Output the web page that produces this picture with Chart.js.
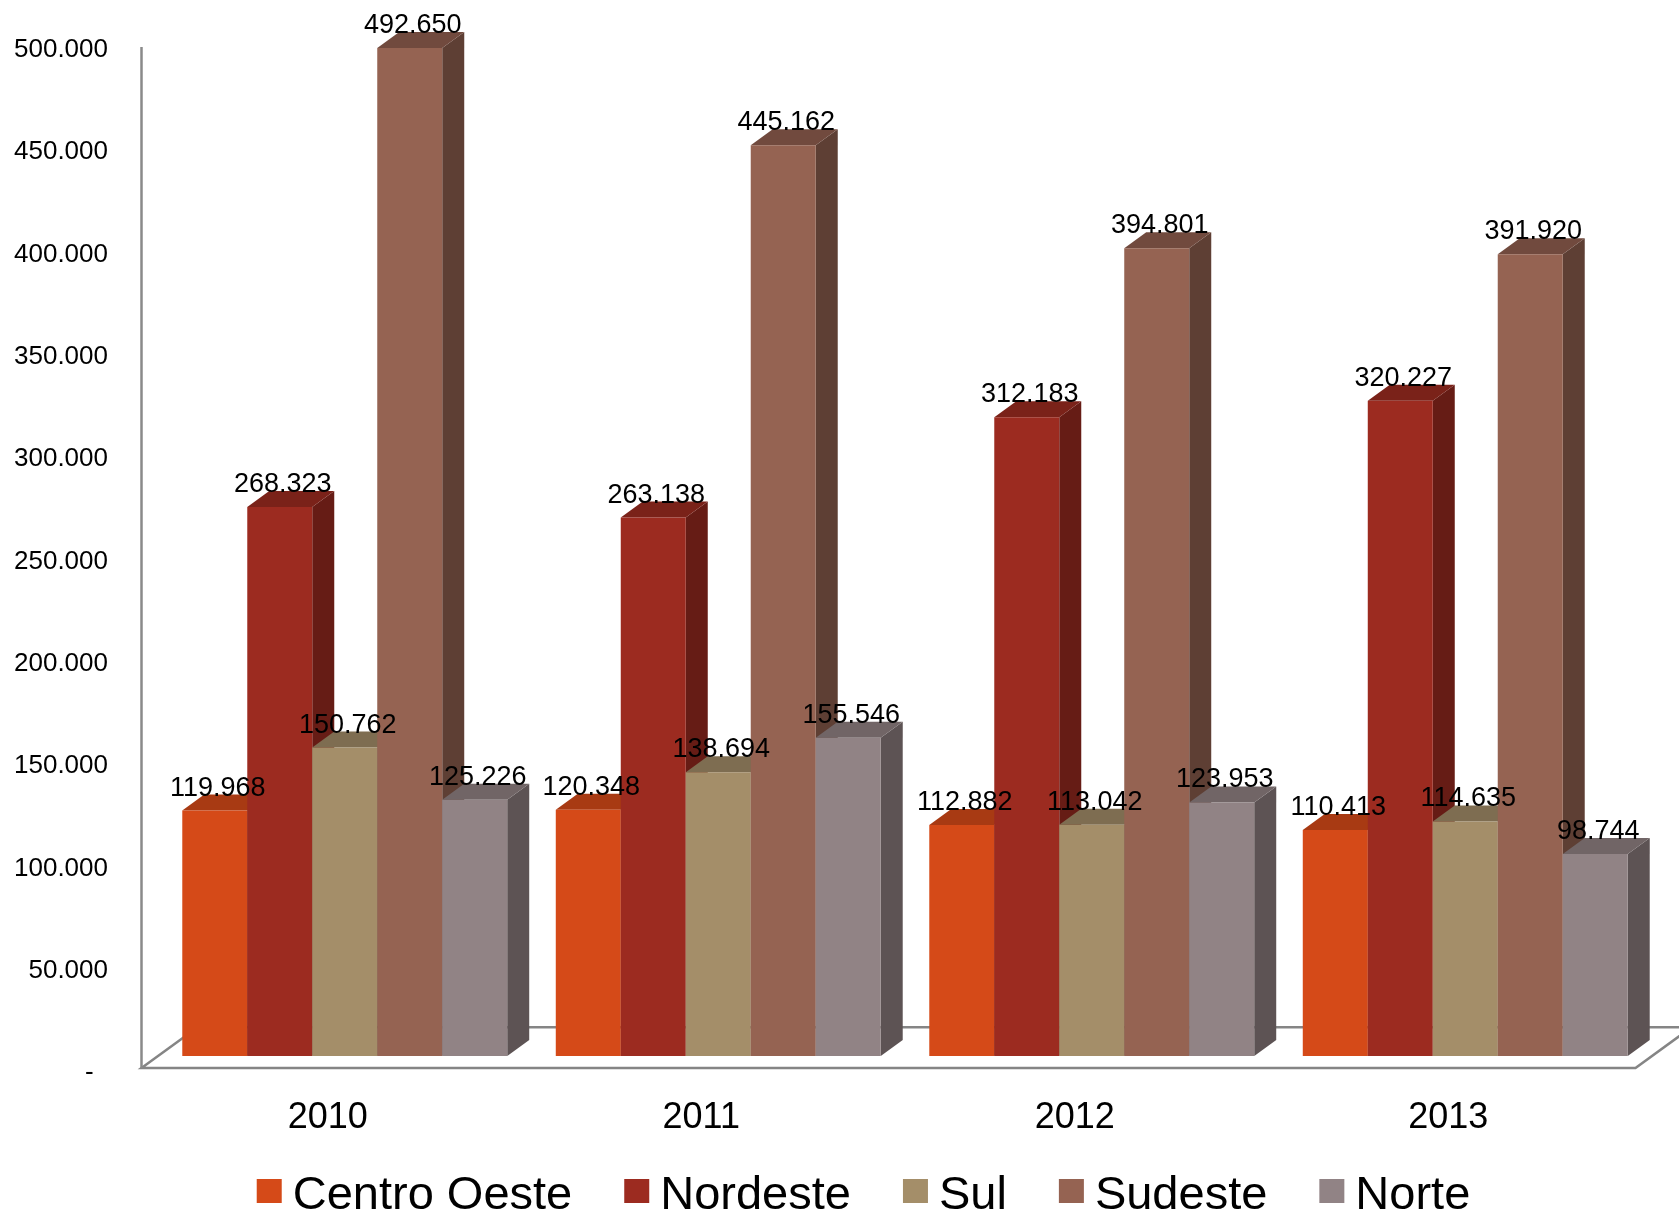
<!DOCTYPE html>
<html>
<head>
<meta charset="utf-8">
<title>Regiões 2010–2013</title>
<script src="https://cdn.jsdelivr.net/npm/chart.js@4/dist/chart.umd.min.js"></script>
<style>
  html, body { margin: 0; padding: 0; background: #ffffff; }
  #wrap { width: 1679px; height: 1217px; }
</style>
</head>
<body>
<div id="wrap"><canvas id="chart" width="1679" height="1217"></canvas></div>
<script>
// Years on the category axis
const categories = ['2010', '2011', '2012', '2013'];

// Values per region
const centroOeste = [119968, 120348, 112882, 110413];
const nordeste    = [268323, 263138, 312183, 320227];
const sul         = [150762, 138694, 113042, 114635];
const sudeste     = [492650, 445162, 394801, 391920];
const norte       = [125226, 155546, 123953, 98744];

const seriesNames = ['Centro Oeste', 'Nordeste', 'Sul', 'Sudeste', 'Norte'];
const seriesValues = [centroOeste, nordeste, sul, sudeste, norte];

// Value axis labels, bottom to top (zero shown as an accounting dash)
const yTickLabels = ['-  ', '50.000', '100.000', '150.000', '200.000', '250.000',
                     '300.000', '350.000', '400.000', '450.000', '500.000'];

// Face colours: front, top, side
const frontColors = ['#D54A18', '#9C2B20', '#A48E69', '#956352', '#918385'];
const topColors   = ['#A83A13', '#7A2219', '#7E6D51', '#714A3E', '#716566'];
const sideColors  = ['#8A300F', '#661C15', '#6B5D46', '#5E3F34', '#5D5354'];

const FONT = '"Liberation Sans", Arial, Helvetica, sans-serif';
Chart.defaults.font.family = FONT;
Chart.defaults.color = '#000000';

// oblique depth of each bar
const DX = 22, DY = 16;

function fmt(v) {
  return String(v).replace(/\B(?=(\d{3})+(?!\d))/g, '.');
}

function poly(ctx, pts, color) {
  ctx.beginPath();
  ctx.moveTo(pts[0][0], pts[0][1]);
  for (let k = 1; k < pts.length; k++) ctx.lineTo(pts[k][0], pts[k][1]);
  ctx.closePath();
  ctx.fillStyle = color;
  ctx.fill();
}

// floor and value-axis edge, drawn under the bars
const floorPlugin = {
  id: 'floor3d',
  beforeDatasetsDraw(chart) {
    const { ctx, chartArea: a } = chart;
    const fx = -0.75 * DX, fy = 0.75 * DY;     // front edge offset
    const bx = 1.8 * DX,   by = -1.8 * DY;     // back edge offset
    const fl = [a.left + fx, a.bottom + fy];
    const fr = [a.right + fx, a.bottom + fy];
    const bl = [a.left + bx, a.bottom + by];
    const br = [a.right + bx, a.bottom + by];
    ctx.save();
    ctx.strokeStyle = '#858585';
    ctx.lineWidth = 2.5;
    ctx.beginPath();
    ctx.moveTo(fl[0], fl[1]); ctx.lineTo(fr[0], fr[1]);
    ctx.lineTo(br[0], br[1]); ctx.lineTo(bl[0], bl[1]);
    ctx.closePath();
    ctx.stroke();
    ctx.strokeStyle = '#8a8a8a';
    ctx.beginPath();
    ctx.moveTo(fl[0], a.top + 14);
    ctx.lineTo(fl[0], fl[1]);
    ctx.stroke();
    ctx.restore();
  }
};

// bars drawn category by category, left to right, with top and side faces
const barsPlugin = {
  id: 'bars3d',
  beforeDatasetDraw() { return false; },
  afterDatasetsDraw(chart) {
    const ctx = chart.ctx;
    const nSets = chart.data.datasets.length;
    const nCats = chart.data.labels.length;
    ctx.save();
    for (let j = 0; j < nCats; j++) {
      for (let i = 0; i < nSets; i++) {
        const bar = chart.getDatasetMeta(i).data[j];
        const { x, y, base, width } = bar.getProps(['x', 'y', 'base', 'width'], true);
        const l = x - width / 2, r = x + width / 2;
        poly(ctx, [[r, y], [r + DX, y - DY], [r + DX, base - DY], [r, base]], sideColors[i]);
        poly(ctx, [[l, y], [r, y], [r + DX, y - DY], [l + DX, y - DY]], topColors[i]);
        bar.draw(ctx);
      }
    }
    // value labels above each bar
    ctx.fillStyle = '#000000';
    ctx.font = '27px ' + FONT;
    ctx.textAlign = 'center';
    ctx.textBaseline = 'alphabetic';
    for (let i = 0; i < nSets; i++) {
      const meta = chart.getDatasetMeta(i);
      meta.data.forEach((bar, j) => {
        const { x, y } = bar.getProps(['x', 'y'], true);
        ctx.fillText(fmt(chart.data.datasets[i].data[j]), x + 3, y - DY + 1);
      });
    }
    ctx.restore();
  }
};

// legend row under the year labels
const legendPlugin = {
  id: 'legendRow',
  afterDraw(chart) {
    const ctx = chart.ctx;
    const box = 25, gap = 11, spacing = 52;
    ctx.save();
    ctx.font = '47px ' + FONT;
    ctx.textBaseline = 'alphabetic';
    ctx.textAlign = 'left';
    const sets = chart.data.datasets;
    const widths = sets.map(d => ctx.measureText(d.label).width);
    const total = widths.reduce((s, w) => s + w + box + gap, 0) + spacing * (sets.length - 1);
    let cx = chart.width / 2 + 24 - total / 2;
    const baseY = 1209;
    sets.forEach((d, i) => {
      ctx.fillStyle = d.backgroundColor;
      ctx.fillRect(cx, baseY - 30, box, 24);
      ctx.fillStyle = '#000000';
      ctx.fillText(d.label, cx + box + gap, baseY);
      cx += box + gap + widths[i] + spacing;
    });
    ctx.restore();
  }
};

const datasets = seriesNames.map((name, i) => ({
  label: name,
  data: seriesValues[i],
  backgroundColor: frontColors[i],
  borderWidth: 0,
  categoryPercentage: 0.87,
  barPercentage: 1.0
}));

new Chart(document.getElementById('chart'), {
  type: 'bar',
  data: { labels: categories, datasets },
  plugins: [floorPlugin, barsPlugin, legendPlugin],
  options: {
    responsive: false,
    animation: false,
    events: [],
    layout: { padding: { top: 33, right: 27, left: 0, bottom: 0 } },
    plugins: {
      legend: { display: false },
      tooltip: { enabled: false }
    },
    scales: {
      x: {
        grid: { display: false },
        border: { display: false },
        ticks: {
          font: { size: 36, family: FONT },
          color: '#000000',
          padding: 32,
          labelOffset: -17,
          maxRotation: 0
        },
        afterFit(scale) {
          scale.height = 161;
          scale.paddingLeft = 0;
          scale.paddingRight = 0;
        }
      },
      y: {
        min: 0,
        max: 500000,
        grid: { display: false },
        border: { display: false },
        ticks: {
          stepSize: 50000,
          font: { size: 26, family: FONT },
          color: '#000000',
          padding: 42,
          labelOffset: 17,
          callback: (v, i) => yTickLabels[i]
        },
        afterFit(scale) {
          scale.width = 158;
          scale.paddingTop = 0;
          scale.paddingBottom = 0;
        }
      }
    }
  }
});
</script>
</body>
</html>
